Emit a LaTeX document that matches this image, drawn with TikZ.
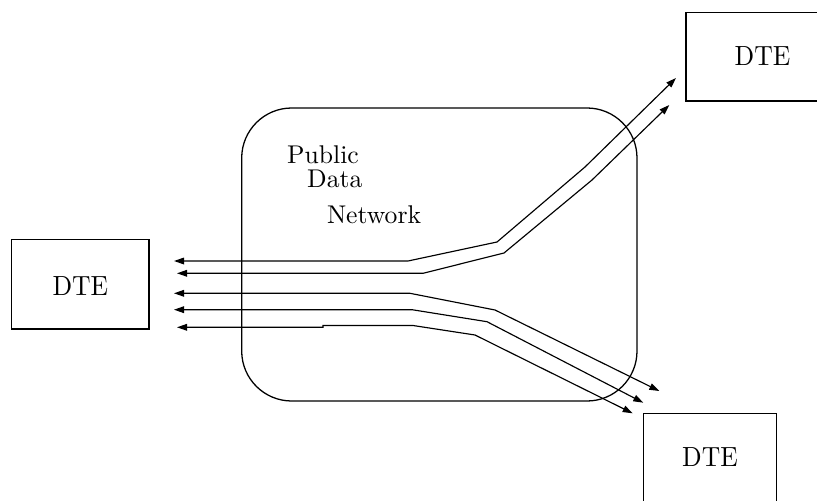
\documentclass[tikz,border=0pt]{standalone}
\usetikzlibrary{arrows.meta,fit}
% lowered, zero-size text so that the baseline sits a set distance below the node centre
\newcommand{\dropText}[2]{\raisebox{-#1}[0pt][0pt]{\scalebox{1}[1.08]{#2}}}
\begin{document}
\begin{tikzpicture}[x=0.39pt,y=-0.39pt,
  box/.style={draw,line width=0.5pt,inner sep=0pt,font=\fontsize{10}{12}\selectfont},
  cloud/.style={draw,line width=0.5pt,rounded corners=19.5pt,inner sep=0pt},
  lbl/.style={anchor=base west,inner sep=0pt,font=\fontsize{10}{12}\selectfont},
  link/.style={line width=0.45pt,{Triangle[length=3.9pt,width=2.6pt]}-{Triangle[length=3.9pt,width=2.6pt]}}]
\useasboundingbox (0,0) rectangle (817,501);

% terminals
\node[box, fit={(11.7,239.3) (149,329)}] (dteL) {\dropText{4.4pt}{DTE}};
\node[box, fit={(686,12.3) (839,101)}] (dteT) {\dropText{3.5pt}{DTE}};
\node[box, fit={(643.3,413.3) (776.7,503)}] (dteB) {\dropText{3.3pt}{DTE}};

% the network
\node[cloud, fit={(241.7,108) (637,401)}] (net) {};
\node[lbl] (pub) at (286.7,163) {Public};
\node[lbl] (dat) at (306.7,187.5) {Data};
\node[lbl] (nwk) at (326.5,223) {Network};

% end points of the virtual circuits
\coordinate (a1) at (174,261);   \coordinate (a2) at (676,78);
\coordinate (b1) at (177,273.3); \coordinate (b2) at (669.3,105);
\coordinate (c1) at (174,293.3); \coordinate (c2) at (659.3,391);
\coordinate (d1) at (174,309.7); \coordinate (d2) at (643.3,402.7);
\coordinate (e1) at (177,327.3); \coordinate (e2) at (632.7,413.3);

% circuits to the upper terminal
\draw[link] (a1) -- (408,261) -- (497,242) -- (585,167) -- (a2);
\draw[link] (b1) -- (423,273.3) -- (504,253) -- (592,180) -- (b2);

% circuits to the lower terminal
\draw[link] (c1) -- (410,293.3) -- (495,310) -- (c2);
\draw[link] (d1) -- (412,309.7) -- (487,321.7) -- (d2);
\draw[link] (e1) -- (323,327.3) -- (323,325.5) -- (413,325.5) -- (475,335) -- (e2);
\end{tikzpicture}
\end{document}
